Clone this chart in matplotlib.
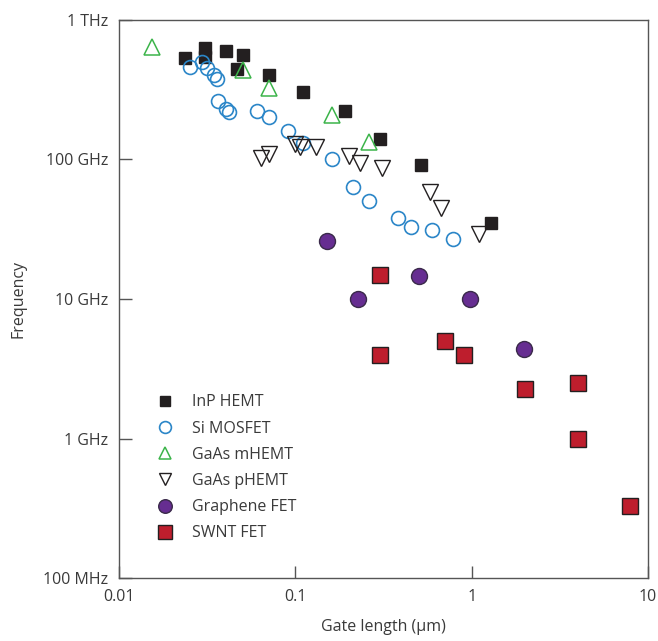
import matplotlib
matplotlib.use('Agg')
import matplotlib.pyplot as plt

# gate length (um) and cutoff frequency (Hz) per device family
inp_x = [0.0235, 0.0305, 0.0305, 0.0406, 0.0507, 0.0469, 0.0712, 0.111, 0.192, 0.300, 0.512, 1.29]
inp_y = [5.3e11, 6.3e11, 5.45e11, 6.0e11, 5.6e11, 4.45e11, 4.0e11, 3.05e11, 2.23e11, 1.4e11, 9.1e10, 3.5e10]

si_x = [0.0254, 0.0294, 0.0316, 0.0347, 0.0358, 0.0366, 0.0405, 0.0422, 0.0606, 0.0707,
        0.0912, 0.111, 0.161, 0.211, 0.261, 0.381, 0.451, 0.594, 0.779]
si_y = [4.6e11, 5.0e11, 4.5e11, 4.0e11, 3.8e11, 2.64e11, 2.3e11, 2.2e11, 2.22e11, 2.0e11,
        1.61e11, 1.31e11, 1.0e11, 6.3e10, 5.0e10, 3.8e10, 3.3e10, 3.1e10, 2.7e10]

mhemt_x = [0.0153, 0.0507, 0.0709, 0.1615, 0.262]
mhemt_y = [6.4e11, 4.4e11, 3.25e11, 2.07e11, 1.34e11]

phemt_x = [0.0639, 0.0709, 0.099, 0.1056, 0.131, 0.2017, 0.233, 0.3115, 0.581, 0.671, 1.097]
phemt_y = [1.02e11, 1.1e11, 1.29e11, 1.23e11, 1.23e11, 1.06e11, 9.5e10, 8.65e10, 5.8e10, 4.5e10, 2.9e10]

graphene_x = [0.151, 0.226, 0.50, 0.976, 1.99]
graphene_y = [2.62e10, 1.0e10, 1.47e10, 1.0e10, 4.4e9]

swnt_x = [0.302, 0.302, 0.702, 0.90, 2.0, 3.98, 3.98, 7.9]
swnt_y = [1.49e10, 3.97e9, 5.0e9, 3.97e9, 2.28e9, 2.5e9, 1.0e9, 3.3e8]

xticks = [0.01, 0.1, 1, 10]
xtick_labels = ['0.01', '0.1', '1', '10']
yticks = [1e8, 1e9, 1e10, 1e11, 1e12]
ytick_labels = ['100 MHz', '1 GHz', '10 GHz', '100 GHz', '1 THz']

plt.rcParams['font.family'] = ['Open Sans', 'DejaVu Sans']
text_color = '#3a3a3a'

fig = plt.figure(figsize=(6.58, 6.41), dpi=100)
ax = fig.add_axes([0.181, 0.098, 0.804, 0.871])

ax.plot(inp_x, inp_y, 's', ms=8, color='#231f20', mec='#231f20', ls='none', label='InP HEMT')
ax.plot(si_x, si_y, 'o', ms=10, mfc='none', mec='#2b86c8', mew=1.2, ls='none', label='Si MOSFET')
ax.plot(mhemt_x, mhemt_y, '^', ms=11, mfc='none', mec='#3cb44a', mew=1.1, ls='none', label='GaAs mHEMT')
ax.plot(phemt_x, phemt_y, 'v', ms=11, mfc='none', mec='#231f20', mew=1.0, ls='none', label='GaAs pHEMT')
ax.plot(graphene_x, graphene_y, 'o', ms=11.5, mfc='#662d91', mec='#3a2a4a', mew=1.0, ls='none', label='Graphene FET')
ax.plot(swnt_x, swnt_y, 's', ms=12, mfc='#be1e2d', mec='#231f20', mew=1.0, ls='none', label='SWNT FET')

ax.set_xscale('log')
ax.set_yscale('log')
ax.set_xlim(0.01, 10)
ax.set_ylim(1e8, 1e12)
ax.set_xticks(xticks)
ax.set_xticklabels(xtick_labels)
ax.set_yticks(yticks)
ax.set_yticklabels(ytick_labels)
ax.minorticks_off()
ax.tick_params(direction='in', length=9, width=1, color='#555555', labelsize=11.5,
               labelcolor=text_color, pad=8)

for s in ax.spines.values():
    s.set_color('#555555')
    s.set_linewidth(1.0)

ax.set_xlabel('Gate length (\u03bcm)', fontsize=11.5, color=text_color, labelpad=10)
ax.set_ylabel('Frequency', fontsize=11.5, color=text_color, labelpad=12)

leg = ax.legend(loc='upper left', bbox_to_anchor=(0.03, 0.355), frameon=False, fontsize=11.5,
                labelspacing=0.64, handletextpad=0.65, numpoints=1, markerscale=0.85)
for t in leg.get_texts():
    t.set_color(text_color)

fig.savefig('out.png', dpi=100)
